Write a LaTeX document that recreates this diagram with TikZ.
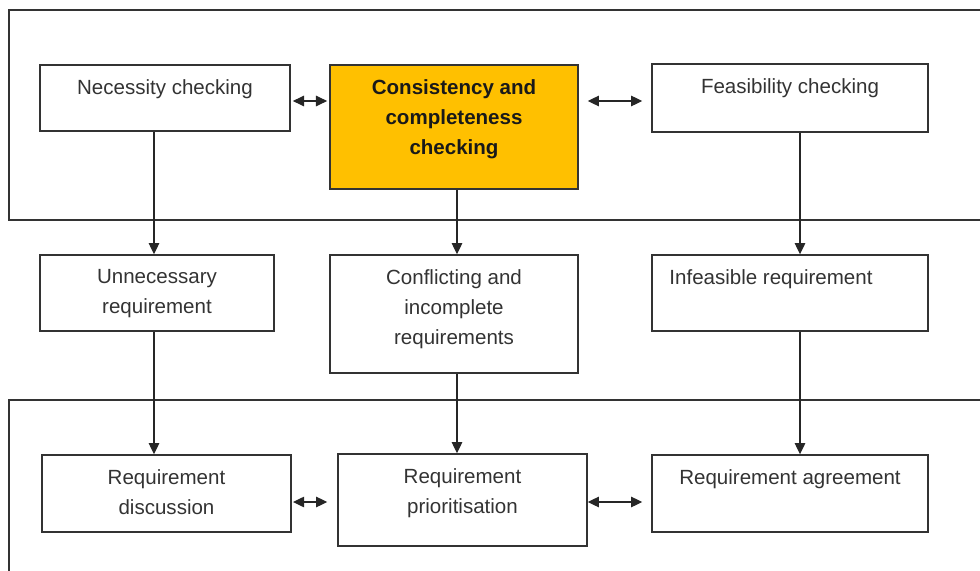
\documentclass[tikz,border=0pt]{standalone}
\usepackage{fontspec}
\setmainfont{Liberation Sans}
\usetikzlibrary{arrows.meta}
\definecolor{amber}{RGB}{255,192,0}
\tikzset{
	blk/.style 2 args={draw=black!80, line width=1pt, fill=white, minimum width=#1, minimum height=#2, inner sep=0pt},
	txt/.style={anchor=north, inner sep=0pt, yshift=-0.375cm, align=center, text=black!80, font=\fontsize{14.6}{21.3}\selectfont},
	hot/.style={txt, text=black!90, font=\fontsize{14.6}{21.3}\selectfont\bfseries},
	arr/.style={-{Triangle[length=8pt,width=7.5pt]}, line width=0.9pt, draw=black!85},
	arrs/.style={{Triangle[length=8pt,width=7.5pt]}-{Triangle[length=8pt,width=7.5pt]}, line width=0.9pt, draw=black!85}
}

\begin{document}
\begin{tikzpicture}[x=0.025cm, y=-0.025cm]
			%%%%% START %%%%%
			\useasboundingbox (0, 0) rectangle (980, 571);
			\clip (0, 0) rectangle (980, 571);
			
			% the two frames
			\draw[line width=1pt, color=black!80] (9, 10) rectangle (1000, 220);
			\draw[line width=1pt, color=black!80] (9, 400) rectangle (1000, 620);
			
			\coordinate (colA) at (154, 0);
			\coordinate (colB) at (457, 0);
			\coordinate (colC) at (800, 0);
			\coordinate (rowT) at (0, 101);
			\coordinate (rowB) at (0, 502);
			
			% checks
			\node[blk={6.25cm}{1.65cm}, label={[txt]north:Necessity checking}] (nec) at (165, 98) {};
			\node[blk={6.2cm}{3.1cm}, fill=amber, label={[hot]north:Consistency and\\completeness\\checking}] (cons) at (454, 127) {};
			\node[blk={6.9cm}{1.7cm}, label={[txt]north:Feasibility checking}] (feas) at (790, 98) {};
			
			% findings
			\node[blk={5.85cm}{1.9cm}, label={[txt]north:Unnecessary\\requirement}] (unn) at (157, 293) {};
			\node[blk={6.2cm}{2.95cm}, label={[txt]north:Conflicting and\\incomplete\\requirements}] (conf) at (454, 314) {};
			\node[blk={6.9cm}{1.9cm}, label={[txt, xshift=-0.475cm]north:Infeasible requirement}] (infe) at (790, 293) {};
			
			% negotiation
			\node[blk={6.225cm}{1.925cm}, label={[txt]north:Requirement\\discussion}] (disc) at (166.5, 493.5) {};
			\node[blk={6.225cm}{2.3cm}, label={[txt]north:Requirement\\prioritisation}] (prio) at (462.5, 500) {};
			\node[blk={6.9cm}{1.925cm}, label={[txt]north:Requirement agreement}] (agre) at (790, 493.5) {};
			
			\draw[arrs, shorten <=1.5pt, shorten >=1.5pt] (nec.east |- rowT) -- (cons.west |- rowT);
			\draw[arrs, shorten <=0.225cm, shorten >=0.225cm] (cons.east |- rowT) -- (feas.west |- rowT);
			\draw[arrs, shorten <=0.03cm, shorten >=0.25cm] (disc.east |- rowB) -- (prio.west |- rowB);
			\draw[arrs, shorten >=0.225cm] (prio.east |- rowB) -- (agre.west |- rowB);
			
			\draw[arr] (nec.south -| colA) -- (unn.north -| colA);
			\draw[arr] (cons.south -| colB) -- (conf.north -| colB);
			\draw[arr] (feas.south -| colC) -- (infe.north -| colC);
			
			\draw[arr] (unn.south -| colA) -- (disc.north -| colA);
			\draw[arr] (conf.south -| colB) -- (prio.north -| colB);
			\draw[arr] (infe.south -| colC) -- (agre.north -| colC);
			%%%%% END %%%%%
\end{tikzpicture}
\end{document}
